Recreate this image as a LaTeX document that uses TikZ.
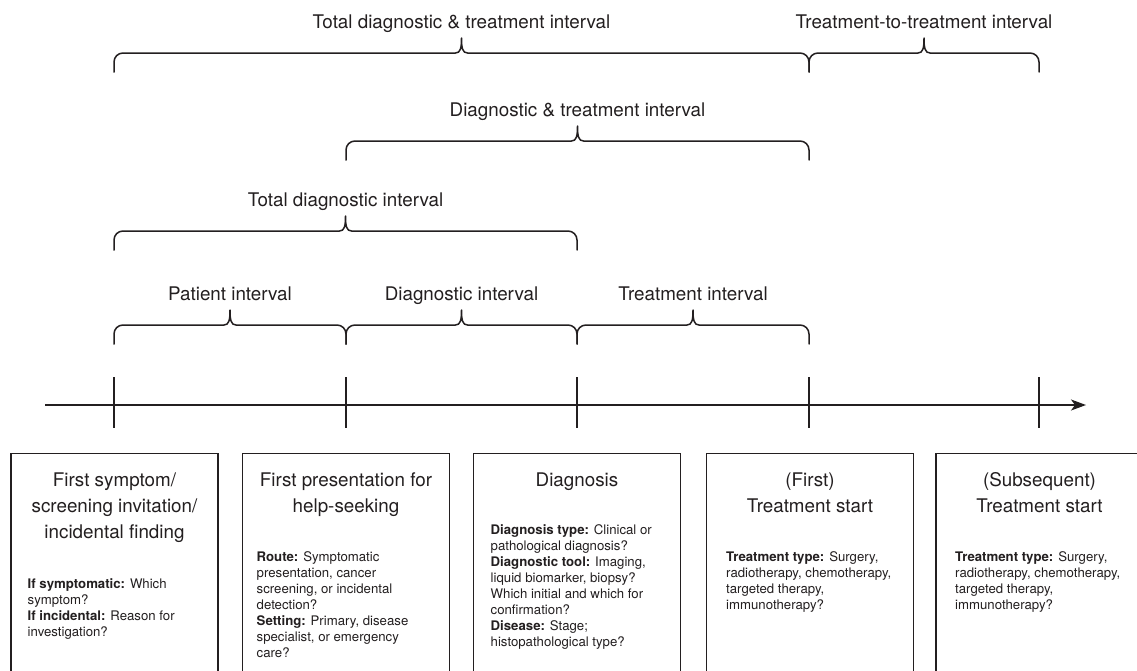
\documentclass[tikz,border=0pt]{standalone}
\usepackage{fontspec}
\setmainfont{TeX Gyre Heros}
\usetikzlibrary{arrows.meta}
\definecolor{ink}{HTML}{231F20}
\tikzset{
  bracestyle/.style={draw=ink,line width=1.5pt,line join=round,line cap=round},
  ivlabel/.style={anchor=base,inner sep=0pt,text=ink,font=\fontsize{18.8}{22}\selectfont},
  boxstyle/.style={draw=ink,line width=1.4pt,anchor=north,minimum width=207pt,minimum height=240pt,inner sep=0pt},
  titletext/.style={anchor=base,inner sep=0pt,align=center,text=ink,font=\fontsize{18.8}{26}\selectfont},
  bodytext/.style={anchor=base west,inner sep=0pt,align=left,text=ink,font=\fontsize{13.2}{16}\selectfont},
  tickstyle/.style={draw=ink,line width=1.5pt},
  axisstyle/.style={draw=ink,line width=1.4pt,-{Stealth[length=15pt,width=11pt,inset=4pt]}}
}
% #1 x1, #2 x2, #3 line y, #4 node name, #5 label
\newcommand\ivbrace[5]{%
  \pgfmathsetmacro\xm{(#1+#2)/2}%
  \draw[bracestyle] (#1,#3+19) -- (#1,#3+9) .. controls (#1,#3+4) and (#1+4,#3) .. (#1+9,#3)
    -- (\xm-6,#3) .. controls (\xm-1,#3) and (\xm,#3-5) .. (\xm,#3-15)
    .. controls (\xm,#3-5) and (\xm+1,#3) .. (\xm+6,#3)
    -- (#2-9,#3) .. controls (#2-4,#3) and (#2,#3+4) .. (#2,#3+9) -- (#2,#3+19);
  \node[ivlabel] (#4) at (\xm,#3-25) {#5};%
}
\begin{document}
\begin{tikzpicture}[x=1pt,y=-1pt]
\useasboundingbox (0,0) rectangle (1137,670);
\clip (0,0) rectangle (1137,670);
\fill[white] (0,0) rectangle (1137,670);

% braces
\ivbrace{114}{809}{53}{ltdt}{Total diagnostic \& treatment interval}
\ivbrace{809}{1039}{53}{ltt}{Treatment-to-treatment interval}
\ivbrace{346}{809}{141}{ldt}{Diagnostic \& treatment interval}
\ivbrace{114}{577}{231}{ltd}{Total diagnostic interval}
\ivbrace{114}{346}{325}{lpi}{Patient interval}
\ivbrace{346}{577}{325}{ldi}{Diagnostic interval}
\ivbrace{577}{809}{325}{lti}{Treatment interval}

% axis
\coordinate (a0) at (45,405);
\coordinate (a1) at (1086,405);
\draw[axisstyle] (a0) -- (a1);
\foreach \x/\n in {114/t1,346/t2,577/t3,809/t4,1039/t5}{
  \coordinate (\n top) at (\x,377);
  \coordinate (\n bot) at (\x,428);
  \draw[tickstyle] (\n top) -- (\n bot);
}

% boxes
\node[boxstyle] (b1) at (114.5,453) {};
\node[boxstyle] (b2) at (346,453) {};
\node[boxstyle] (b3) at (577,453) {};
\node[boxstyle] (b4) at (810,453) {};
\node[boxstyle] (b5) at (1039.5,453) {};

% titles (anchor base = baseline of last line)
\node[titletext] (h1) at (114.5,538) {First symptom/\\screening invitation/\\incidental finding};
\node[titletext] (h2) at (346,512) {First presentation for\\help-seeking};
\node[titletext] (h3) at (577,486) {Diagnosis};
\node[titletext] (h4) at (810,512) {(First)\\Treatment start};
\node[titletext] (h5) at (1039.5,512) {(Subsequent)\\Treatment start};

% body texts (anchor base = baseline of last line)
\node[bodytext] (d1) at (27.5,636) {\textbf{If symptomatic:} Which\\symptom?\\\textbf{If incidental:} Reason for\\investigation?};
\node[bodytext] (d2) at (256.5,657) {\textbf{Route:} Symptomatic\\presentation, cancer\\screening, or incidental\\detection?\\\textbf{Setting:} Primary, disease\\specialist, or emergency\\care?};
\node[bodytext] (d3) at (490.5,646) {\textbf{Diagnosis type:} Clinical or\\pathological diagnosis?\\\textbf{Diagnostic tool:} Imaging,\\liquid biomarker, biopsy?\\Which initial and which for\\confirmation?\\\textbf{Disease:} Stage;\\histopathological type?};
\node[bodytext] (d4) at (726,609) {\textbf{Treatment type:} Surgery,\\radiotherapy, chemotherapy,\\targeted therapy,\\immunotherapy?};
\node[bodytext] (d5) at (955,609) {\textbf{Treatment type:} Surgery,\\radiotherapy, chemotherapy,\\targeted therapy,\\immunotherapy?};
\end{tikzpicture}
\end{document}
